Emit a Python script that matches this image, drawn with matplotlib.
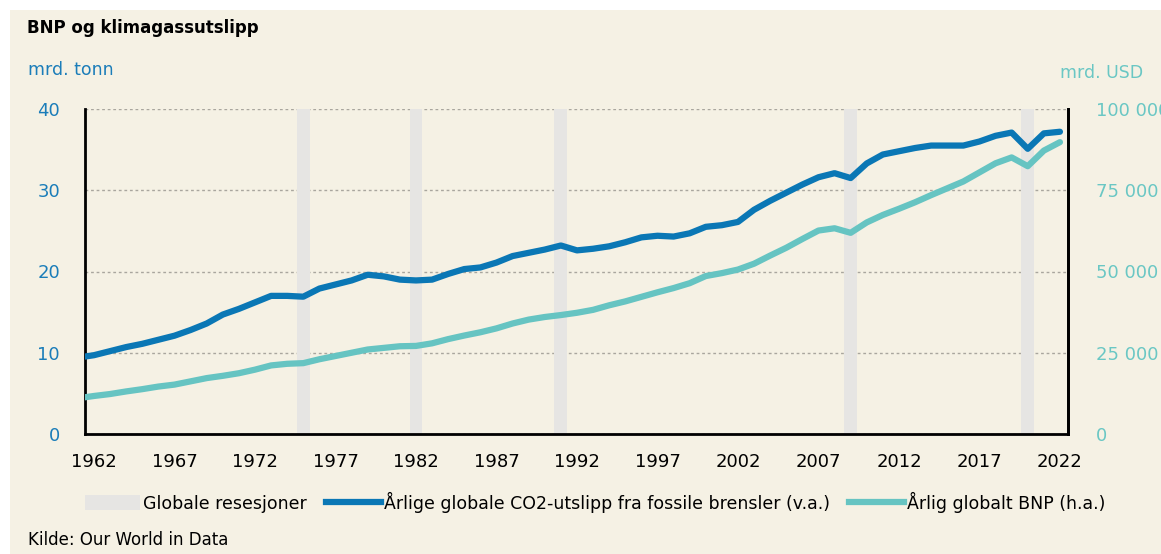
import matplotlib
matplotlib.use("Agg")
import matplotlib.pyplot as plt
from matplotlib.patches import Patch, Rectangle
from matplotlib.lines import Line2D
from matplotlib.ticker import FuncFormatter

# data
years = list(range(1961, 2023))
co2 = [9.4, 9.7, 10.2, 10.7, 11.1, 11.6, 12.1, 12.8, 13.6, 14.7,
       15.4, 16.2, 17.0, 17.0, 16.9, 17.9, 18.4, 18.9, 19.6, 19.4,
       19.0, 18.9, 19.0, 19.7, 20.3, 20.5, 21.1, 21.9, 22.3, 22.7,
       23.2, 22.6, 22.8, 23.1, 23.6, 24.2, 24.4, 24.3, 24.7, 25.5,
       25.7, 26.1, 27.6, 28.7, 29.7, 30.7, 31.6, 32.1, 31.5, 33.3,
       34.4, 34.8, 35.2, 35.5, 35.5, 35.5, 36.0, 36.7, 37.1, 35.1,
       37.0, 37.2]
gdp = [11000, 11700, 12300, 13100, 13800, 14600, 15200, 16200, 17200, 17900,
       18700, 19800, 21100, 21600, 21800, 23000, 24000, 25000, 26000, 26500,
       27000, 27100, 27900, 29200, 30300, 31300, 32500, 34000, 35200, 36000,
       36600, 37300, 38200, 39600, 40800, 42200, 43600, 44900, 46400, 48600,
       49500, 50600, 52400, 54900, 57300, 60000, 62600, 63300, 61900, 65100,
       67400, 69300, 71300, 73500, 75600, 77700, 80500, 83300, 85100, 82400,
       87200, 89800]
recessions = [1975, 1982, 1991, 2009, 2020]
xticks = list(range(1962, 2023, 5))
left_ticks = [0, 10, 20, 30, 40]
right_ticks = [0, 25000, 50000, 75000, 100000]

BG = "#f5f1e4"
BLUE = "#0a77b5"
TEAL = "#66c4c2"
BLUE_TXT = "#1b7db9"
TEAL_TXT = "#6ac7c4"
BAND = "#e6e5e3"


def thousands(v, pos):
    return f"{v:,.0f}".replace(",", " ")


def main():
    fig = plt.figure(figsize=(11.61, 5.54), dpi=100, facecolor="white")
    fig.patches.append(Rectangle((10 / 1161, 0), 1, 544 / 554,
                                 transform=fig.transFigure,
                                 facecolor=BG, edgecolor="none", zorder=-10))

    ax = fig.add_axes([85 / 1161, 1 - 434 / 554, 983 / 1161, 325 / 554])
    ax.set_facecolor(BG)
    ax.set_xlim(1961.44, 2022.5)
    ax.set_ylim(0, 40)

    for yr in recessions:
        ax.axvspan(yr - 0.4, yr + 0.4, color=BAND, lw=0, zorder=1)

    ax.set_axisbelow(True)
    ax.grid(axis="y", linestyle=(0, (2, 2)), color="#a9a69e", lw=1)
    ax.plot(years, co2, color=BLUE, lw=4.5, solid_capstyle="round",
            solid_joinstyle="round", zorder=3)

    ax.set_xticks(xticks)
    ax.set_yticks(left_ticks)
    ax.tick_params(axis="x", length=0, pad=14, labelsize=13, colors="black")
    ax.tick_params(axis="y", length=0, pad=18, labelsize=13,
                   labelcolor=BLUE_TXT)
    ax.spines["top"].set_visible(False)
    for s in ["left", "bottom", "right"]:
        ax.spines[s].set_color("black")
        ax.spines[s].set_linewidth(2)

    ax2 = ax.twinx()
    ax2.set_ylim(0, 100000)
    ax2.set_yticks(right_ticks)
    ax2.yaxis.set_major_formatter(FuncFormatter(thousands))
    ax2.tick_params(axis="y", length=0, pad=20, labelsize=13,
                    labelcolor=TEAL_TXT)
    for lbl in ax2.get_yticklabels():
        lbl.set_horizontalalignment("left")
    ax2.plot(years, gdp, color=TEAL, lw=4.5, solid_capstyle="round",
             solid_joinstyle="round", zorder=3)
    ax2.spines["top"].set_visible(False)
    ax2.spines["right"].set_linewidth(2)
    ax2.spines["right"].set_color("black")
    ax2.spines["left"].set_visible(False)
    ax2.spines["bottom"].set_visible(False)

    fig.text(27 / 1161, 1 - 28 / 554, "BNP og klimagassutslipp",
             fontsize=12, fontweight="bold", va="center", ha="left")
    fig.text(28 / 1161, 1 - 70 / 554, "mrd. tonn", fontsize=12.5,
             color=BLUE_TXT, va="center", ha="left")
    fig.text(1143 / 1161, 1 - 73 / 554, "mrd. USD", fontsize=12.5,
             color=TEAL_TXT, va="center", ha="right")
    fig.text(28 / 1161, 1 - 540 / 554, "Kilde: Our World in Data",
             fontsize=12, va="center", ha="left")

    handles = [
        Patch(facecolor=BAND, edgecolor="none"),
        Line2D([0], [0], color=BLUE, lw=4.5),
        Line2D([0], [0], color=TEAL, lw=4.5),
    ]
    labels = ["Globale resesjoner",
              "Årlige globale CO2-utslipp fra fossile brensler (v.a.)",
              "Årlig globalt BNP (h.a.)"]
    fig.legend(handles, labels, loc="center",
               bbox_to_anchor=(595 / 1161, 1 - 502 / 554), ncol=3,
               frameon=False, fontsize=12.5, handlelength=3.2,
               handleheight=1.0, handletextpad=0.15, columnspacing=1.1,
               borderpad=0)

    fig.savefig("out.png", dpi=100, facecolor=fig.get_facecolor())


if __name__ == "__main__":
    main()
